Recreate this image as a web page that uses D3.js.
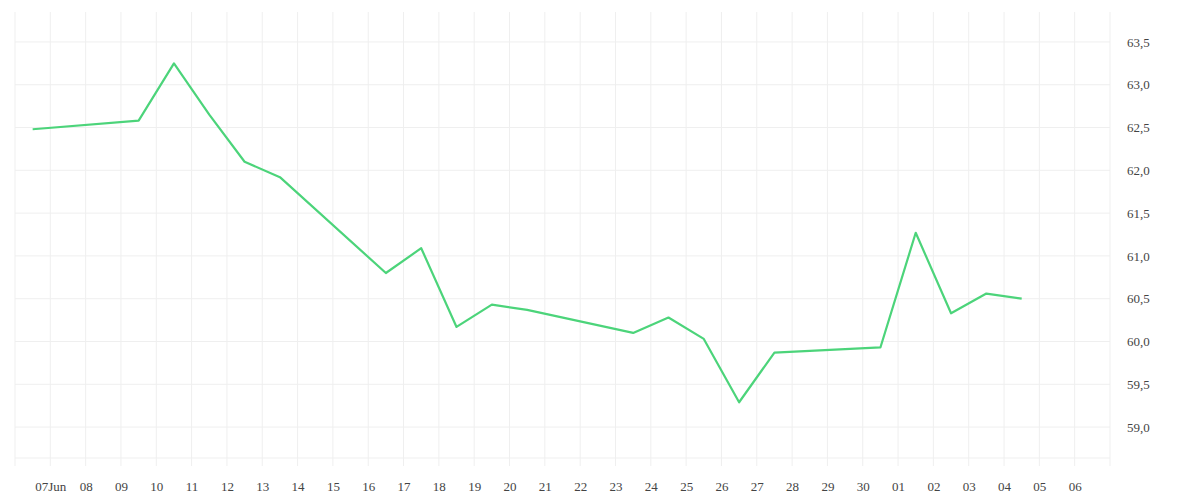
<!DOCTYPE html><html><head><meta charset="utf-8"><script src="https://cdn.jsdelivr.net/npm/d3@7"></script>
<style>body{margin:0;background:#fff}</style></head><body><svg id="c" width="1200" height="500"></svg>
<script>
const dates=["2023-06-06T12","2023-06-09T12","2023-06-10T12","2023-06-11T12","2023-06-12T12","2023-06-13T12","2023-06-16T12","2023-06-17T12","2023-06-18T12","2023-06-19T12","2023-06-20T12","2023-06-23T12","2023-06-24T12","2023-06-25T12","2023-06-26T12","2023-06-27T12","2023-06-30T12","2023-07-01T12","2023-07-02T12","2023-07-03T12","2023-07-04T12"];
const values=[62.48,62.58,63.25,62.65,62.1,61.92,60.8,61.09,60.17,60.43,60.37,60.1,60.28,60.03,59.29,59.87,59.93,61.27,60.33,60.56,60.5];
const yTicks=[59.0,59.5,60.0,60.5,61.0,61.5,62.0,62.5,63.0,63.5];
const P=d3.timeParse("%Y-%m-%dT%H");
const svg=d3.select("#c");
const x=d3.scaleTime().domain([new Date(2023,5,6),new Date(2023,6,7)]).range([15,1110]);
const y=d3.scaleLinear().domain([58.545,63.85]).range([466,12]);
const days=d3.timeDay.range(new Date(2023,5,6),new Date(2023,6,7));
const g=svg.append("g");
g.selectAll(".v").data(days).join("line").attr("x1",d=>x(d)).attr("x2",d=>x(d)).attr("y1",12).attr("y2",466).attr("stroke","#efefef");
g.selectAll(".h").data(yTicks).join("line").attr("x1",15).attr("x2",1110).attr("y1",d=>y(d)).attr("y2",d=>y(d)).attr("stroke","#efefef");
g.append("line").attr("x1",15).attr("x2",1110).attr("y1",458).attr("y2",458).attr("stroke","#efefef");
g.append("line").attr("x1",1110).attr("x2",1110).attr("y1",12).attr("y2",466).attr("stroke","#efefef");
const f="Liberation Serif";
const ya=svg.append("g").attr("transform","translate(1110,0)").call(d3.axisRight(y).tickValues(yTicks).tickSize(0).tickPadding(17).tickFormat(d=>d3.format(".1f")(d).replace(".",",")));
ya.select(".domain").remove();
ya.selectAll("text").attr("font-family",f).attr("font-size",13).attr("fill","#444");
const xa=svg.append("g").attr("transform","translate(0,478)").call(d3.axisBottom(x).tickValues(days.slice(1)).tickSize(0).tickPadding(4).tickFormat(d=>d.getDate()===7&&d.getMonth()===5?"07Jun":d3.timeFormat("%d")(d)));
xa.select(".domain").remove();
xa.selectAll("text").attr("font-family",f).attr("font-size",13).attr("fill","#444");
svg.append("path").datum(dates.map((d,i)=>[P(d),values[i]])).attr("fill","none").attr("stroke","#4cd47a").attr("stroke-width",2.2).attr("stroke-linejoin","round")
.attr("d",d3.line().x(d=>x(d[0])).y(d=>y(d[1])));
</script></body></html>
